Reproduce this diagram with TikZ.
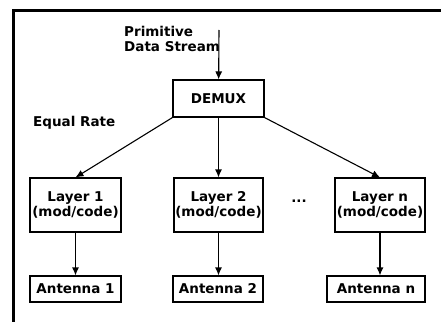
\documentclass[tikz,border=0pt]{standalone}
\usepackage{fontspec}
\setmainfont{DejaVu Sans}
\usetikzlibrary{positioning, arrows.meta}

\begin{document}
\begin{tikzpicture}[
        x=1pt, y=-1pt,
        every node/.style={font=\bfseries\fontsize{13.5}{15.5}\selectfont, inner sep=0pt},
        blk/.style={draw, line width=1.1pt, align=center, minimum height=26pt},
        layer/.style={blk, minimum height=54pt},
        link/.style={line width=1.1pt, -{Latex[length=8pt, width=7pt]}}]
        \useasboundingbox (0,0) rectangle (441,321);

        % frame
        \draw[line width=2.8pt] (445,10.5) -- (13.5,10.5) -- (13.5,325);

        \node[anchor=north west, align=left] (src) at (124,26) {Primitive\\Data Stream};
        \coordinate (in) at (219,30);
        \node[blk, minimum width=91pt, minimum height=37pt] (D) at (218.5,98.5) {DEMUX};
        \node[anchor=west] (rate) at (33,122.5) {Equal Rate};

        \node[layer, minimum width=91pt] (L1) at (75.5,205) {Layer 1\\(mod/code)};
        \node[layer, minimum width=89pt] (L2) at (218.5,205) {Layer 2\\(mod/code)};
        \node[layer, minimum width=90pt] (L3) at (380,205) {Layer n\\(mod/code)};
        \node (dots) at (299,201) {...};

        \node[blk, minimum width=91pt] (A1) at (75.5,289) {Antenna 1};
        \node[blk, minimum width=90pt] (A2) at (218,289) {Antenna 2};
        \node[blk, minimum width=98pt] (A3) at (376,289) {Antenna n};

        \draw[link] (in) -- (D);
        \draw[link] (D.south west) -- (L1.north);
        \draw[link] (D.south -| L2.north) -- (L2.north);
        \draw[link] (D.south east) -- (L3.north);
        \draw[link] (L1.south) -- (L1.south |- A1.north);
        \draw[link] (L2.south) -- (L2.south |- A2.north);
        \draw[link] (L3.south) -- (L3.south |- A3.north);

    \end{tikzpicture}
\end{document}
